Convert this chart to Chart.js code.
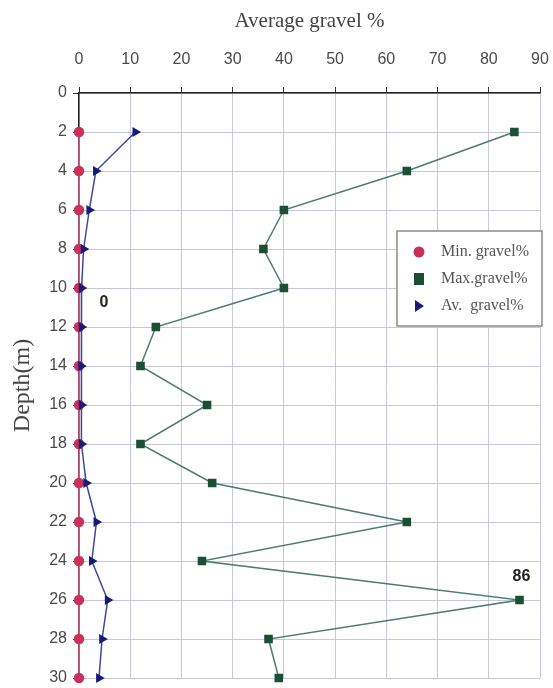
<!DOCTYPE html>
<html>
<head>
<meta charset="utf-8">
<title>Average gravel %</title>
<script src="https://cdn.jsdelivr.net/npm/chart.js@4.4.1/dist/chart.umd.min.js"></script>
<style>
  html, body { margin: 0; padding: 0; background: #ffffff; }
  #wrap { width: 553px; height: 688px; }
</style>
</head>
<body>
<div id="wrap"><canvas id="c" width="553" height="688"></canvas></div>
<script>
// Depth of each sample (m) and gravel percentages per depth
const depths     = [2, 4, 6, 8, 10, 12, 14, 16, 18, 20, 22, 24, 26, 28, 30];
const minGravel  = [0, 0, 0, 0, 0, 0, 0, 0, 0, 0, 0, 0, 0, 0, 0];
const maxGravel  = [85, 64, 40, 36, 40, 15, 12, 25, 12, 26, 64, 24, 86, 37, 39];
const avGravel   = [11, 3.3, 2, 0.9, 0.5, 0.5, 0.4, 0.5, 0.5, 1.4, 3.4, 2.5, 5.6, 4.5, 3.9];
const seriesNames = ['Min. gravel%', 'Max.gravel%', 'Av.  gravel%'];

// Callouts: [dataset index, point index, dx, dy]
const callouts = [
  [0, 4, 25, 15],
  [1, 12, 2, -23]
];

const toPoints = vals => vals.map((v, i) => ({ x: v, y: depths[i] }));

// Boxed legend drawn inside the plot area
const boxLegend = {
  id: 'boxLegend',
  afterDraw(chart) {
    const ctx = chart.ctx;
    const x0 = 397, y0 = 231, w = 145, h = 95;
    ctx.save();
    ctx.fillStyle = '#ffffff';
    ctx.fillRect(x0, y0, w, h);
    ctx.strokeStyle = '#8a8a8a';
    ctx.lineWidth = 1.5;
    ctx.strokeRect(x0, y0, w, h);
    chart.data.datasets.forEach((ds, i) => {
      const cy = y0 + 21 + i * 27;
      const cx = x0 + 22;
      ctx.fillStyle = ds.pointBackgroundColor;
      ctx.beginPath();
      if (ds.pointStyle === 'circle') {
        ctx.arc(cx, cy, 5.5, 0, Math.PI * 2);
      } else if (ds.pointStyle === 'rect') {
        ctx.rect(cx - 5, cy - 6, 10, 12);
      } else {
        ctx.moveTo(cx - 4, cy - 6);
        ctx.lineTo(cx + 5, cy);
        ctx.lineTo(cx - 4, cy + 6);
        ctx.closePath();
      }
      ctx.fill();
      ctx.fillStyle = '#555555';
      ctx.font = '16px "Liberation Serif", serif';
      ctx.textBaseline = 'middle';
      ctx.textAlign = 'left';
      ctx.fillText(ds.label, x0 + 44, cy);
    });
    ctx.restore();
  }
};

// Bold value labels next to chosen points
const valueLabels = {
  id: 'valueLabels',
  afterDatasetsDraw(chart) {
    const ctx = chart.ctx;
    ctx.save();
    ctx.font = 'bold 16px "Liberation Sans", Arial, sans-serif';
    ctx.fillStyle = '#222222';
    ctx.textAlign = 'center';
    ctx.textBaseline = 'middle';
    callouts.forEach(([d, i, dx, dy]) => {
      const el = chart.getDatasetMeta(d).data[i];
      const v = chart.data.datasets[d].data[i].x;
      ctx.fillText(String(v), el.x + dx, el.y + dy);
    });
    ctx.restore();
  }
};

new Chart(document.getElementById('c'), {
  type: 'line',
  data: {
    datasets: [
      {
        label: seriesNames[0],
        data: toPoints(minGravel),
        borderColor: '#d8587e',
        backgroundColor: '#c8325a',
        pointBackgroundColor: '#c8325a',
        pointBorderColor: '#c8325a',
        pointStyle: 'circle',
        pointRadius: 4.5,
        borderWidth: 1.5,
        order: 3
      },
      {
        label: seriesNames[1],
        data: toPoints(maxGravel),
        borderColor: '#4a7c70',
        backgroundColor: '#1d4f35',
        pointBackgroundColor: '#1d4f35',
        pointBorderColor: '#1d4f35',
        pointStyle: 'rect',
        pointRadius: 5,
        borderWidth: 1.5,
        order: 2
      },
      {
        label: seriesNames[2],
        data: toPoints(avGravel),
        borderColor: '#3a4a96',
        backgroundColor: '#1a1a7a',
        pointBackgroundColor: '#1a1a7a',
        pointBorderColor: '#1a1a7a',
        pointStyle: 'triangle',
        pointRotation: 90,
        pointRadius: 4.2,
        borderWidth: 1.5,
        order: 1
      }
    ]
  },
  options: {
    responsive: false,
    animation: false,
    clip: false,
    layout: { padding: { top: 0, right: 13, bottom: 10, left: 0 } },
    plugins: {
      legend: { display: false },
      tooltip: { enabled: false }
    },
    scales: {
      x: {
        type: 'linear',
        position: 'top',
        min: 0,
        max: 90,
        ticks: {
          stepSize: 10,
          color: '#4a4a4a',
          padding: 18,
          font: { family: '"Liberation Sans", Arial, sans-serif', size: 16 }
        },
        grid: {
          color: '#c6c6dc',
          lineWidth: 1,
          tickColor: '#333333',
          tickLength: 6
        },
        border: { color: '#222222', width: 1.5 },
        title: {
          display: true,
          text: 'Average gravel %',
          color: '#444444',
          padding: { top: 9, bottom: 4 },
          font: { family: '"Liberation Serif", "Times New Roman", serif', size: 21 }
        },
        afterFit(scale) {
          scale.height = 93;
          scale.paddingLeft = 0;
          scale.paddingRight = 0;
        }
      },
      y: {
        type: 'linear',
        reverse: true,
        min: 0,
        max: 30,
        ticks: {
          stepSize: 2,
          color: '#4a4a4a',
          padding: 6,
          font: { family: '"Liberation Sans", Arial, sans-serif', size: 16 }
        },
        grid: {
          color: '#c6c6dc',
          lineWidth: 1,
          tickColor: '#333333',
          tickLength: 6
        },
        border: { color: '#222222', width: 1.5 },
        title: {
          display: true,
          text: 'Depth(m)',
          color: '#444444',
          padding: { top: 8, bottom: 4 },
          font: { family: '"Liberation Serif", "Times New Roman", serif', size: 24 }
        },
        afterFit(scale) {
          scale.width = 79;
          scale.paddingTop = 0;
          scale.paddingBottom = 0;
        }
      }
    }
  },
  plugins: [valueLabels, boxLegend]
});
</script>
</body>
</html>
